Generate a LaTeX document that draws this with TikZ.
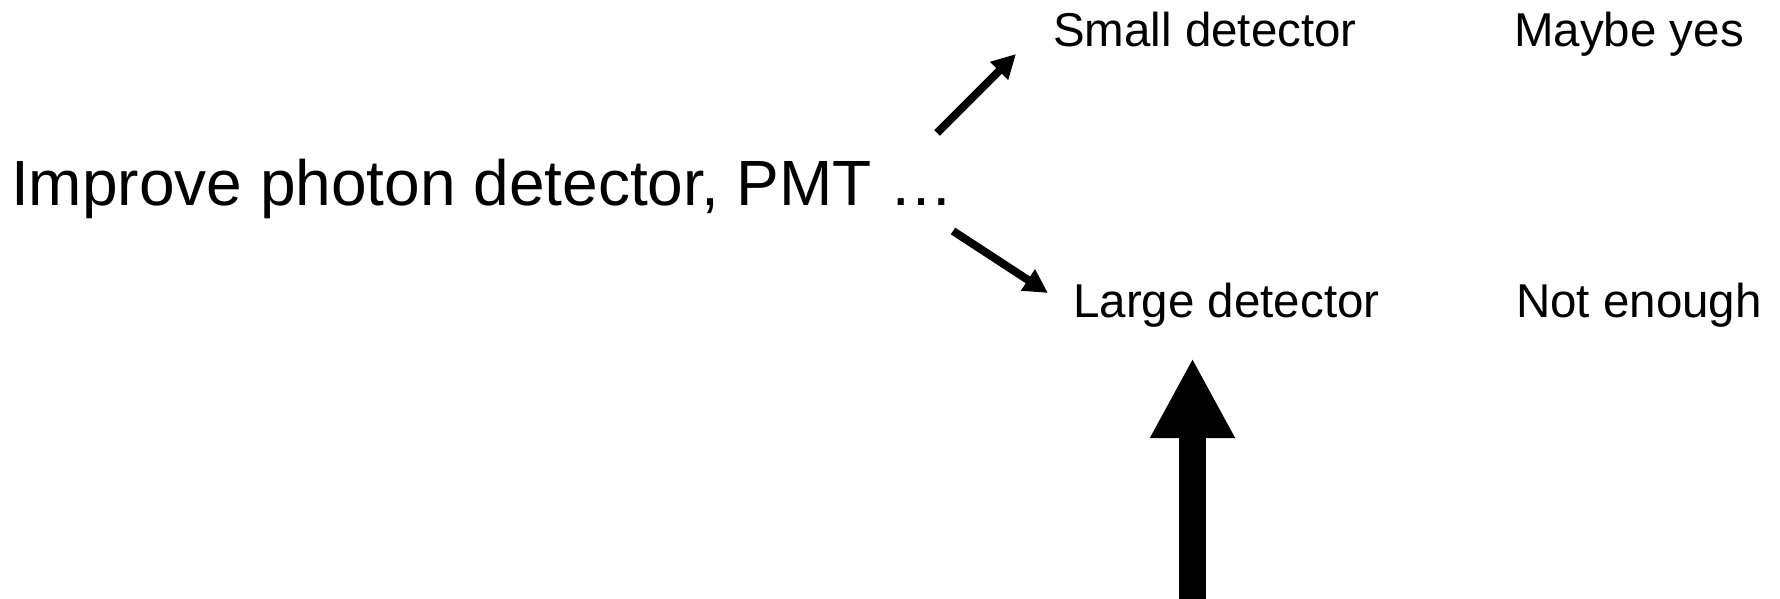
\documentclass[tikz,border=0pt]{standalone}
\usepackage{fontspec}
\setmainfont{Liberation Sans}
\usetikzlibrary{arrows.meta}
\begin{document}
\begin{tikzpicture}[x=1pt,y=-1pt,
  bigtext/.style={anchor=base west,inner sep=0pt,font=\fontsize{64}{64}\selectfont},
  lbl/.style={anchor=base west,inner sep=0pt,font=\fontsize{47.5}{47.5}\selectfont},
  thinarrow/.style={line width=8pt,-{Triangle[length=24pt,width=24pt]}},
  bigarrow/.style={line width=27pt,-{Triangle[length=80pt,width=79pt]}}]
\useasboundingbox (0,0) rectangle (1780,599);
\node[bigtext] (improve) at (11,205) {Improve photon detector, PMT \ldots};
\node[lbl] (small) at (1053,47) {Small detector};
\node[lbl] (maybe) at (1514,47) {Maybe yes};
\node[lbl] (large) at (1073,317) {Large detector};
\node[lbl] (notenough) at (1516,317) {Not enough};
\coordinate (a1s) at (937,133);
\coordinate (a1e) at (1016,54);
\coordinate (a2s) at (953,231);
\coordinate (a2e) at (1048,293);
\coordinate (bigs) at (1192.5,599);
\coordinate (bige) at (1192.5,358);
\draw[thinarrow] (a1s) -- (a1e);
\draw[thinarrow] (a2s) -- (a2e);
\draw[bigarrow] (bigs) -- (bige);
\end{tikzpicture}
\end{document}
